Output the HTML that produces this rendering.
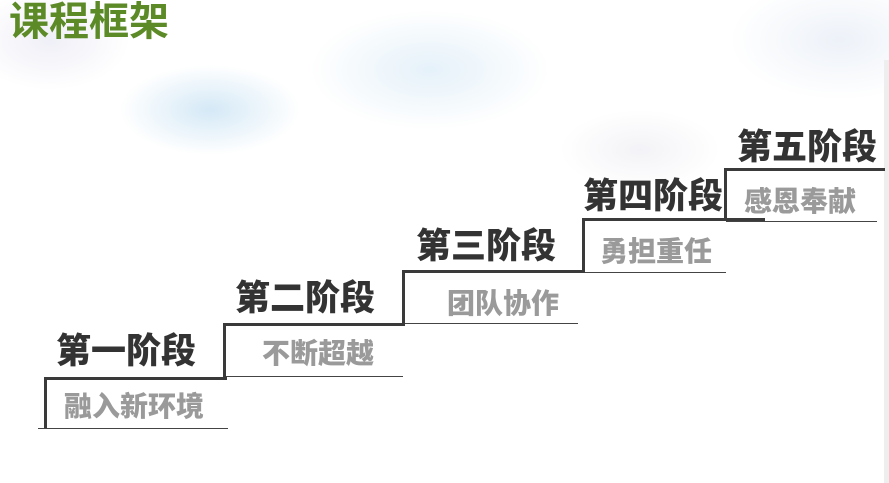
<!DOCTYPE html>
<html><head><meta charset="utf-8"><style>
body{margin:0;width:889px;height:483px;overflow:hidden;background:#fff;position:relative;font-family:"Liberation Sans","Noto Sans CJK SC",sans-serif}
.a{position:absolute}
.h{position:absolute;font-size:35px;font-weight:900;color:#333;line-height:1;white-space:nowrap;letter-spacing:0px}
.s{position:absolute;font-size:28px;font-weight:900;color:#9a9a9a;line-height:1;white-space:nowrap}
.k{position:absolute;background:#3a3a3a}
.t{position:absolute;background:#444;height:1px}
</style></head><body>
<div class="a" style="left:0;top:0;width:889px;height:200px;background:
radial-gradient(ellipse 90px 45px at 210px 110px,rgba(160,205,235,.45),rgba(255,255,255,0)),
radial-gradient(ellipse 120px 60px at 430px 70px,rgba(190,220,240,.4),rgba(255,255,255,0)),
radial-gradient(ellipse 80px 50px at 50px 40px,rgba(215,215,235,.4),rgba(255,255,255,0)),
radial-gradient(ellipse 110px 60px at 840px 40px,rgba(215,225,240,.45),rgba(255,255,255,0)),
radial-gradient(ellipse 80px 40px at 640px 150px,rgba(225,225,235,.4),rgba(255,255,255,0));"></div>
<div class="a" style="left:884px;top:60px;width:5px;height:423px;background:#eee"></div>
<div class="a" style="left:9px;top:0px;font-size:40px;color:#5b8a26;font-weight:bold;line-height:1.1">课程框架</div>

<div class="h" style="left:56px;top:334px">第一阶段</div>
<div class="h" style="left:235px;top:281px">第二阶段</div>
<div class="h" style="left:416px;top:229px">第三阶段</div>
<div class="h" style="left:583px;top:179px">第四阶段</div>
<div class="h" style="left:737px;top:130px">第五阶段</div>

<div class="s" style="left:64px;top:393px">融入新环境</div>
<div class="s" style="left:262px;top:340px">不断超越</div>
<div class="s" style="left:447px;top:290px">团队协作</div>
<div class="s" style="left:600px;top:238px">勇担重任</div>
<div class="s" style="left:744px;top:188px">感恩奉献</div>

<div class="k" style="left:44px;top:377px;width:3px;height:52px"></div>
<div class="k" style="left:44px;top:377px;width:183px;height:3px"></div>
<div class="k" style="left:223px;top:323px;width:3px;height:57px"></div>
<div class="k" style="left:223px;top:323px;width:181px;height:3px"></div>
<div class="k" style="left:402px;top:270px;width:3px;height:56px"></div>
<div class="k" style="left:402px;top:270px;width:183px;height:3px"></div>
<div class="k" style="left:582px;top:218px;width:3px;height:55px"></div>
<div class="k" style="left:582px;top:218px;width:183px;height:3px"></div>
<div class="k" style="left:724px;top:168px;width:3px;height:53px"></div>
<div class="k" style="left:724px;top:168px;width:161px;height:3px"></div>

<div class="t" style="left:38px;top:428px;width:190px"></div>
<div class="t" style="left:226px;top:376px;width:177px"></div>
<div class="t" style="left:405px;top:323px;width:173px"></div>
<div class="t" style="left:585px;top:272px;width:141px"></div>
<div class="t" style="left:726px;top:221px;width:151px"></div>
</body></html>
